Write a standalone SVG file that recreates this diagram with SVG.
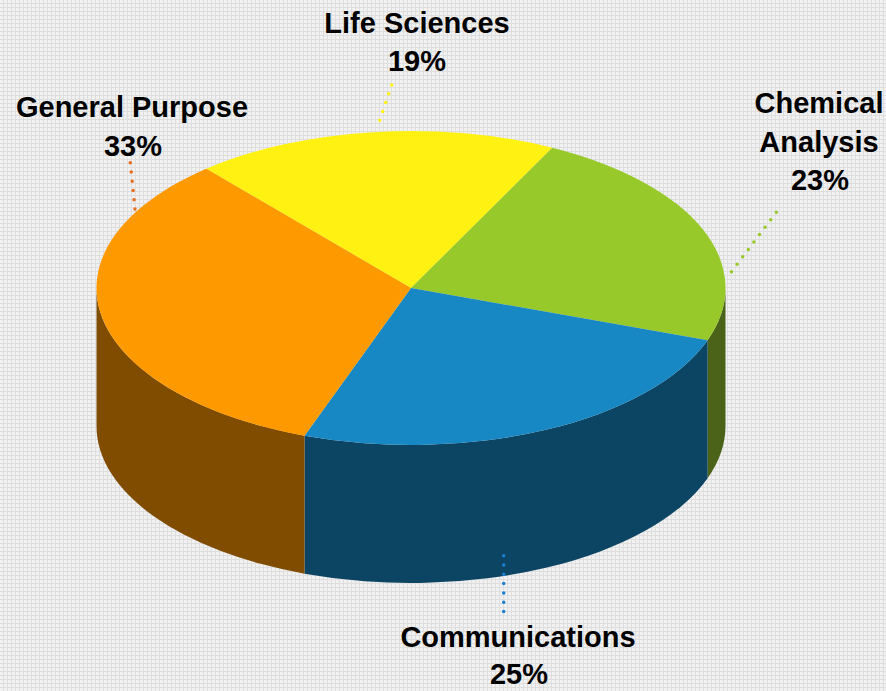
<svg xmlns="http://www.w3.org/2000/svg" width="886" height="691" viewBox="0 0 886 691">
<defs>
<pattern id="bg" width="4" height="4" patternUnits="userSpaceOnUse">
<rect width="4" height="4" fill="#f1f1f1"/>
<rect x="0" y="3" width="4" height="1" fill="#dedede"/>
<rect x="3" y="0" width="1" height="4" fill="#dedede"/>
</pattern>
<style>
.lbl{font-family:"Liberation Sans",Arial,sans-serif;font-weight:bold;font-size:29px;fill:#000;text-anchor:middle}
.lead{fill:none;stroke-width:3.5;stroke-linecap:round;stroke-dasharray:0 9.3}
</style>
</defs>
<rect width="886" height="691" fill="url(#bg)"/>
<g id="sides">
<path d="M725.5,288 A314.5,157 0 0 1 707.6,340.2 L707.6,478.2 A314.5,157 0 0 0 725.5,426 Z" fill="#4b6219"/>
<path d="M707.6,340.2 A314.5,157 0 0 1 304.5,435.7 L304.5,573.7 A314.5,157 0 0 0 707.6,478.2 Z" fill="#0c4563"/>
<path d="M304.5,435.7 A314.5,157 0 0 1 96.5,288 L96.5,426 A314.5,157 0 0 0 304.5,573.7 Z" fill="#7f4c00"/>
</g>
<g id="slice-life-sciences">
<path d="M411,288 L206.3,168.8 A314.5,157 0 0 1 552.3,147.7 Z" fill="#fff212"/>
</g>
<g id="slice-chemical-analysis">
<path d="M411,288 L552.3,147.7 A314.5,157 0 0 1 707.6,340.2 Z" fill="#98c92a"/>
</g>
<g id="slice-communications">
<path d="M411,288 L707.6,340.2 A314.5,157 0 0 1 304.5,435.7 Z" fill="#1788c4"/>
</g>
<g id="slice-general-purpose">
<path d="M411,288 L304.5,435.7 A314.5,157 0 0 1 206.3,168.8 Z" fill="#ff9900"/>
</g>
<g id="connectors">
<path class="lead" d="M130.3,162.7 L135,209.3" stroke="#ea6b1c"/>
<path class="lead" d="M391.7,85 L376.7,129" stroke="#fff212"/>
<path class="lead" d="M776.3,212.3 L730.3,273.3" stroke="#98c92a"/>
<path class="lead" d="M503.7,555.7 L503.7,611.7" stroke="#1a7fd0"/>
</g>
<g id="label-life-sciences">
<text class="lbl" x="417" y="33">Life Sciences</text>
<text class="lbl" x="417" y="71">19%</text>
</g>
<g id="label-general-purpose">
<text class="lbl" x="132" y="117">General Purpose</text>
<text class="lbl" x="133" y="156">33%</text>
</g>
<g id="label-chemical-analysis">
<text class="lbl" x="819" y="113">Chemical</text>
<text class="lbl" x="819" y="152">Analysis</text>
<text class="lbl" x="820" y="190">23%</text>
</g>
<g id="label-communications">
<text class="lbl" x="518" y="647">Communications</text>
<text class="lbl" x="519" y="684">25%</text>
</g>
</svg>
